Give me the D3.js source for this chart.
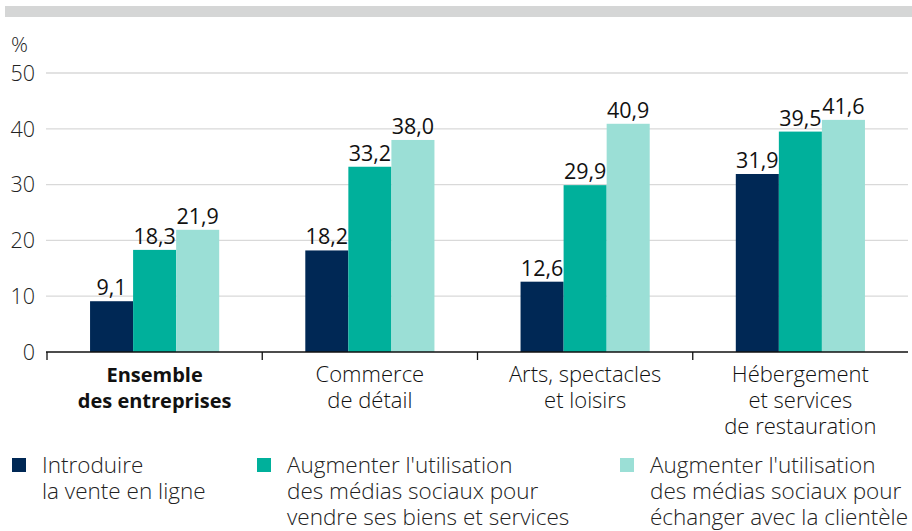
<!DOCTYPE html>
<html><head><meta charset="utf-8">
<script src="https://cdn.jsdelivr.net/npm/d3@7"></script>
<style>body{margin:0;background:#fff;} svg{display:block;font-family:"Open Sans",sans-serif;}</style>
</head><body>
<svg id="c" width="912" height="531"></svg>
<script>
const categories = [["Ensemble","des entreprises"],["Commerce","de détail"],["Arts, spectacles","et loisirs"],["Hébergement","et services","de restauration"]];
const seriesNames = ["Introduire la vente en ligne","Augmenter l'utilisation des médias sociaux pour vendre ses biens et services","Augmenter l'utilisation des médias sociaux pour échanger avec la clientèle"];
const legendLines = [["Introduire","la vente en ligne"],["Augmenter l'utilisation","des médias sociaux pour","vendre ses biens et services"],["Augmenter l'utilisation","des médias sociaux pour","échanger avec la clientèle"]];
const venteEnLigne = [9.1, 18.2, 12.6, 31.9];
const mediasVendre = [18.3, 33.2, 29.9, 39.5];
const mediasEchanger = [21.9, 38.0, 40.9, 41.6];
const yTicks = [0,10,20,30,40,50];
const colors = ["#002855","#00b09b","#9bdfd6"];

const svg = d3.select("#c");
const series = [venteEnLigne, mediasVendre, mediasEchanger];
const fmt = v => d3.format(".1f")(v).replace(".", ",");

// top bar
svg.append("rect").attr("x",5).attr("y",6).attr("width",907).attr("height",11).attr("fill","#d5d6d6");

const x0 = d3.scaleBand().domain(d3.range(categories.length)).range([47,908]).paddingInner(0).paddingOuter(0);
const x1 = d3.scaleBand().domain(d3.range(3)).range([0, x0.bandwidth()]).paddingInner(0).paddingOuter(1);
const y = d3.scaleLinear().domain([0,50]).range([352,73]);

// grid
svg.append("g").selectAll("line").data(yTicks.filter(d=>d>0)).join("line")
  .attr("x1",46).attr("x2",908).attr("y1",d=>y(d)).attr("y2",d=>y(d))
  .attr("stroke","#d9d9d9").attr("stroke-width",1.3);

// y labels
svg.append("g").selectAll("text").data(yTicks).join("text")
  .attr("x",35).attr("y",d=>y(d)).attr("dy","0.36em").attr("text-anchor","end")
  .attr("font-size",21.5).attr("font-weight",300).attr("fill","#222").text(d=>d);
svg.append("text").attr("x",11).attr("y",52).attr("font-size",21).attr("font-weight",300).attr("fill","#222").text("%");

// bars
const g = svg.append("g");
categories.forEach((c,i)=>{
  series.forEach((s,j)=>{
    const bx = x0(i)+x1(j);
    g.append("rect").attr("x",bx).attr("y",y(s[i])).attr("width",x1.bandwidth()).attr("height",y(0)-y(s[i])).attr("fill",colors[j]);
    g.append("text").attr("x",bx+x1.bandwidth()/2).attr("y",y(s[i])-6).attr("text-anchor","middle")
      .attr("font-size",21.5).attr("fill","#111").text(fmt(s[i]));
  });
});

// x axis
svg.append("line").attr("x1",46).attr("x2",908).attr("y1",y(0)).attr("y2",y(0)).attr("stroke","#111").attr("stroke-width",1.3);
const bounds = d3.range(categories.length+1).map(i=> i<categories.length ? x0(i) : x0(i-1)+x0.bandwidth());
svg.append("g").selectAll("line").data(bounds.slice(0,4)).join("line")
  .attr("x1",d=>d).attr("x2",d=>d).attr("y1",y(0)).attr("y2",y(0)+8).attr("stroke","#111").attr("stroke-width",1.3);

// category labels
categories.forEach((c,i)=>{
  const t = svg.append("text").attr("x",x0(i)+x0.bandwidth()/2).attr("y",382).attr("text-anchor","middle")
    .attr("font-size", i===0?20:22).attr("fill","#111").attr("font-weight", i===0?700:300);
  c.forEach((l,k)=> t.append("tspan").attr("x",x0(i)+x0.bandwidth()/2).attr("y",382+k*26).text(l));
});

// legend
const lx = [12, 257, 620];
legendLines.forEach((lines,j)=>{
  svg.append("rect").attr("x",lx[j]).attr("y",458).attr("width",14).attr("height",14).attr("fill",colors[j]);
  const t = svg.append("text").attr("font-size",22.5).attr("font-weight",300).attr("fill","#222");
  lines.forEach((l,k)=> t.append("tspan").attr("x",lx[j]+30).attr("y",473+k*26).text(l));
});
</script>
</body></html>
